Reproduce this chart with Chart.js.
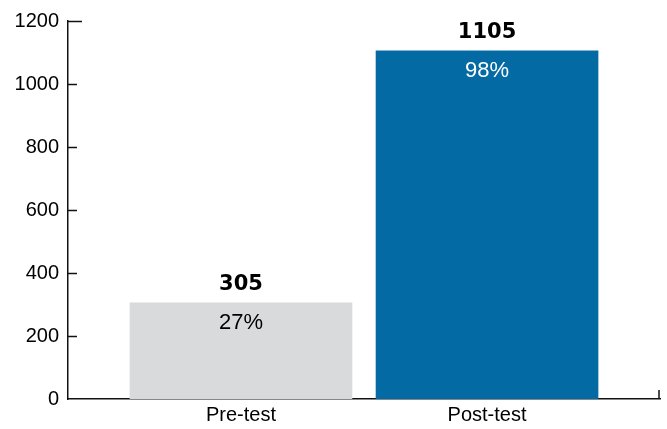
<!DOCTYPE html>
<html>
<head>
<meta charset="utf-8">
<script src="https://cdn.jsdelivr.net/npm/chart.js@4"></script>
<style>
  html, body { margin: 0; padding: 0; background: #fff; }
  #wrap { width: 667px; height: 429px; }
</style>
</head>
<body>
<div id="wrap"><canvas id="myChart" width="667" height="429"></canvas></div>
<script>
var categorias = ['Pre-test', 'Post-test'];
var valores = [305, 1105];
var porcentajes = ['27%', '98%'];
var colores = ['#d9dadc', '#046aa4'];
var colorTexto = ['#000000', '#ffffff'];
var ticksY = [0, 200, 400, 600, 800, 1000, 1200];

var fuente = '"Liberation Sans", Arial, Helvetica, sans-serif';

// ticks hacia adentro + etiquetas sobre las barras
var extras = {
  id: 'extras',
  afterDraw: function(chart) {
    var ctx = chart.ctx;
    var y = chart.scales.y;
    var area = chart.chartArea;
    ctx.save();
    ctx.strokeStyle = '#111';
    ctx.lineWidth = 1.5;
    ticksY.forEach(function(v) {
      if (v === 0) return;
      var py = Math.round(y.getPixelForValue(v)) + 0.5;
      var largo = v === 1200 ? 14 : 9;
      ctx.beginPath();
      ctx.moveTo(area.left, py);
      ctx.lineTo(area.left + largo, py);
      ctx.stroke();
    });
    // tick al final del eje x
    ctx.beginPath();
    ctx.moveTo(area.right - 1, area.bottom);
    ctx.lineTo(area.right - 1, area.bottom - 9);
    ctx.stroke();

    var meta = chart.getDatasetMeta(0);
    ctx.textAlign = 'center';
    ctx.textBaseline = 'middle';
    meta.data.forEach(function(bar, i) {
      ctx.fillStyle = '#000';
      ctx.font = 'bold 21px "DejaVu Sans", sans-serif';
      ctx.fillText(String(valores[i]), bar.x, bar.y - 18);
      ctx.fillStyle = colorTexto[i];
      ctx.font = '22px ' + fuente;
      ctx.fillText(porcentajes[i], bar.x, bar.y + 20);
    });
    ctx.restore();
  }
};

var ctx = document.getElementById('myChart').getContext('2d');
var chart = new Chart(ctx, {
  type: 'bar',
  data: {
    datasets: [{
      data: valores.map(function(v, i) { return { x: i, y: v }; }),
      backgroundColor: colores,
      borderWidth: 0,
      barThickness: 222
    }]
  },
  options: {
    responsive: false,
    animation: false,
    layout: { padding: { top: 18, right: 7, left: 0, bottom: 0 } },
    plugins: { legend: { display: false }, tooltip: { enabled: false } },
    scales: {
      x: {
        type: 'linear',
        offset: false,
        min: -0.703,
        max: 1.703,
        afterBuildTicks: function(s) { s.ticks = [{ value: 0 }, { value: 1 }]; },
        afterFit: function(s) { s.height = 30; },
        grid: { display: false, drawTicks: false },
        border: { display: true, color: '#111', width: 1.5 },
        ticks: {
          padding: 4,
          color: '#000',
          font: { family: fuente, size: 20 },
          callback: function(v) { return categorias[v] || ''; }
        }
      },
      y: {
        min: 0,
        max: 1200,
        afterBuildTicks: function(s) { s.ticks = ticksY.map(function(v) { return { value: v }; }); },
        afterFit: function(s) { s.width = 68; },
        grid: { display: false, drawTicks: false },
        border: { display: true, color: '#111', width: 1.5 },
        ticks: {
          padding: 9,
          color: '#000',
          font: { family: fuente, size: 20 },
          callback: function(v) { return String(v); }
        }
      }
    }
  },
  plugins: [extras]
});
</script>
</body>
</html>
